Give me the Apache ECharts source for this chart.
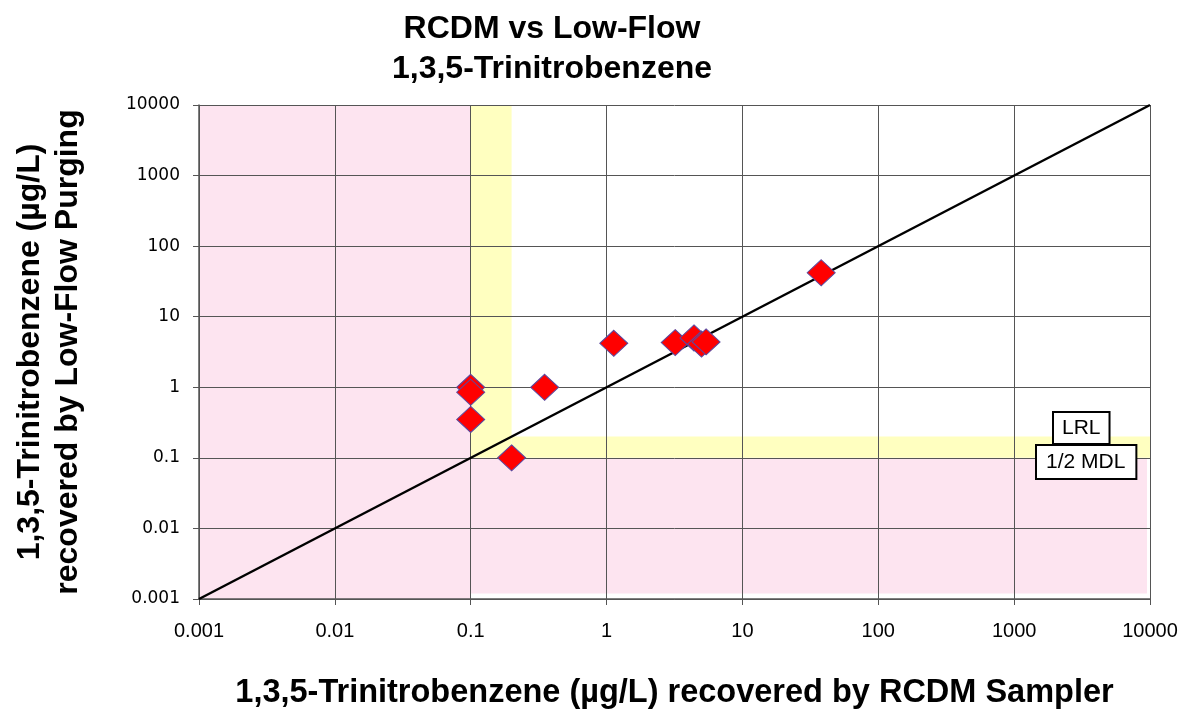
<!DOCTYPE html>
<html>
<head>
<meta charset="utf-8">
<title>RCDM vs Low-Flow</title>
<script src="https://cdn.jsdelivr.net/npm/echarts@6/dist/echarts.min.js"></script>
<style>
  html, body { margin: 0; padding: 0; background: #fff; }
  #chart { width: 1188px; height: 715px; }
</style>
</head>
<body>
<div id="chart"></div>
<script>
// data
var rcdm    = [0.1, 0.1, 0.1, 0.2, 0.35, 1.13, 3.2, 4.4, 5.0, 5.4, 38];
var lowFlow = [1.0, 0.85, 0.35, 0.1, 1.0, 4.2, 4.3, 5.0, 4.1, 4.4, 42];
var axisTicks = [0.001, 0.01, 0.1, 1, 10, 100, 1000, 10000];
var oneToOne = [0.001, 10000];
// LRL / half MDL shading limits
var halfMdl = 0.1;
var lrl = 0.2;

var points = rcdm.map(function (x, i) { return [x, lowFlow[i]]; });
var axMin = axisTicks[0], axMax = axisTicks[axisTicks.length - 1];

var myChart = echarts.init(document.getElementById('chart'));

function fmt(v) {
  for (var i = 0; i < axisTicks.length; i++) {
    if (Math.abs(Math.log10(v) - Math.log10(axisTicks[i])) < 1e-6) return String(axisTicks[i]);
  }
  return '';
}

var option = {
  backgroundColor: '#fff',
  animation: false,
  title: {
    text: 'RCDM vs Low-Flow\n1,3,5-Trinitrobenzene',
    left: 547,
    textAlign: 'center',
    top: 4,
    textStyle: {
      fontFamily: 'Liberation Sans',
      fontSize: 32,
      fontWeight: 'bold',
      color: '#000',
      lineHeight: 40
    }
  },
  grid: { left: 199, right: 38, top: 105, bottom: 114 },
  xAxis: {
    type: 'log',
    logBase: 10,
    min: axMin,
    max: axMax,
    z: 2,
    name: '1,3,5-Trinitrobenzene (\u00b5g/L) recovered by RCDM Sampler',
    nameLocation: 'middle',
    nameGap: 78,
    nameTextStyle: { fontFamily: 'Liberation Sans', fontSize: 32.5, fontWeight: 'bold', color: '#000' },
    axisLine: { lineStyle: { color: '#555', width: 1.5 } },
    axisTick: { show: true, length: 6, lineStyle: { color: '#555' } },
    axisLabel: { formatter: fmt, fontFamily: 'Liberation Sans', fontSize: 20, color: '#000', margin: 22 },
    splitLine: { show: true, lineStyle: { color: '#555', width: 1 } },
    minorTick: { show: false }
  },
  yAxis: {
    type: 'log',
    logBase: 10,
    min: axMin,
    max: axMax,
    z: 2,
    name: '1,3,5-Trinitrobenzene (\u00b5g/L)\nrecovered by Low-Flow Purging',
    nameLocation: 'middle',
    nameGap: 112,
    nameRotate: 90,
    nameTextStyle: { fontFamily: 'Liberation Sans', fontSize: 32, fontWeight: 'bold', color: '#000', lineHeight: 38 },
    axisLine: { lineStyle: { color: '#555', width: 1.5 } },
    axisTick: { show: true, length: 6, lineStyle: { color: '#555' } },
    axisLabel: { formatter: fmt, fontFamily: 'DejaVu Sans', fontSize: 17, color: '#000', margin: 19 },
    splitLine: { show: true, lineStyle: { color: '#555', width: 1 } }
  },
  series: [
    {
      name: 'bands',
      type: 'line',
      z: 1,
      data: [],
      silent: true,
      markArea: {
        silent: true,
        data: [
          [{ xAxis: axMin, yAxis: axMin, itemStyle: { color: '#fde4f0' } }, { xAxis: halfMdl, yAxis: axMax }],
          [{ xAxis: halfMdl, yAxis: 0.0012, itemStyle: { color: '#fde4f0' } }, { xAxis: 9500, yAxis: halfMdl }],
          [{ xAxis: halfMdl, yAxis: halfMdl, itemStyle: { color: '#ffffc0' } }, { xAxis: lrl, yAxis: axMax }],
          [{ xAxis: lrl, yAxis: halfMdl, itemStyle: { color: '#ffffc0' } }, { xAxis: axMax, yAxis: lrl }]
        ]
      }
    },
    {
      name: '1:1',
      type: 'line',
      z: 3,
      data: [[oneToOne[0], oneToOne[0]], [oneToOne[1], oneToOne[1]]],
      symbol: 'none',
      lineStyle: { color: '#000', width: 2.5 }
    },
    {
      name: 'samples',
      type: 'scatter',
      z: 4,
      data: points,
      symbol: 'diamond',
      symbolSize: [28, 26],
      itemStyle: { color: '#ff0000', opacity: 1, borderColor: '#5a4aa0', borderWidth: 1 }
    }
  ],
  graphic: [
    {
      type: 'text',
      left: 1052, top: 411,
      z: 10,
      style: {
        text: 'LRL',
        fontFamily: 'Liberation Sans', fontSize: 21, fill: '#000',
        backgroundColor: '#fff', borderColor: '#000', borderWidth: 2,
        padding: [5, 8, 4, 8]
      }
    },
    {
      type: 'text',
      left: 1035, top: 444,
      z: 11,
      style: {
        text: '1/2 MDL',
        fontFamily: 'Liberation Sans', fontSize: 21, fill: '#000',
        backgroundColor: '#fff', borderColor: '#000', borderWidth: 2,
        padding: [6, 10, 5, 9]
      }
    }
  ]
};

myChart.setOption(option, true);
</script>
</body>
</html>
